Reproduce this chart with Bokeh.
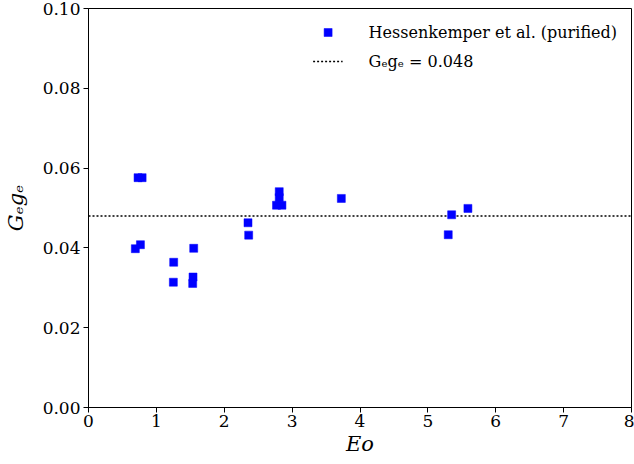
from bokeh.plotting import figure
from bokeh.models import Legend, LegendItem, FixedTicker
from bokeh.embed import file_html
from bokeh.resources import INLINE

# Data: Hessenkemper et al. (purified)
eo = [0.73, 0.79, 0.69, 0.765, 1.255, 1.25, 1.55, 1.54, 1.535,
      2.35, 2.36, 2.81, 2.81, 2.77, 2.85, 3.725, 5.35, 5.59, 5.30]
geg = [0.0576, 0.0576, 0.0398, 0.0408, 0.0364, 0.0314, 0.0399, 0.0327, 0.0311,
       0.0463, 0.0432, 0.0541, 0.0526, 0.0507, 0.0507, 0.0524, 0.0483, 0.0499, 0.0433]
ge_const = 0.048
x_range = (0, 8)
y_range = (0, 0.10)
x_ticks = [0, 1, 2, 3, 4, 5, 6, 7, 8]
y_ticks = [0.0, 0.02, 0.04, 0.06, 0.08, 0.10]

FONT = "DejaVu Serif"

p = figure(width=634, height=464, output_backend="svg", toolbar_location=None,
           x_range=x_range, y_range=y_range,
           min_border_left=87, min_border_right=3, min_border_top=8, min_border_bottom=57)
p.grid.visible = False
p.outline_line_color = "black"
p.outline_line_width = 1
p.background_fill_color = "white"
p.border_fill_color = "white"

line_r = p.line(x=list(x_range), y=[ge_const, ge_const], line_color="black",
                line_width=1.6, line_dash="2 2")
sq_r = p.scatter(eo, geg, marker="square", size=8, fill_color="#0000ff",
                 line_color="#0000ff", line_width=0.5)

for ax in (p.xaxis[0], p.yaxis[0]):
    ax.major_label_text_font = FONT
    ax.major_label_text_font_size = "17px"
    ax.major_label_text_color = "black"
    ax.axis_label_text_font = FONT
    ax.axis_label_text_font_size = "21px"
    ax.axis_label_text_font_style = "italic"
    ax.axis_label_text_color = "black"
    ax.minor_tick_line_color = None
    ax.major_tick_out = 5
    ax.major_tick_in = 0
    ax.axis_line_color = "black"
    ax.major_tick_line_color = "black"

p.xaxis.ticker = FixedTicker(ticks=x_ticks)
p.yaxis.ticker = FixedTicker(ticks=y_ticks)
p.xaxis.major_label_overrides = {t: str(t) for t in x_ticks}
p.yaxis.major_label_overrides = {t: f"{t:.2f}" for t in y_ticks}
p.xaxis.axis_label = "Eo"
p.yaxis.axis_label = "Gₑgₑ"
p.xaxis.major_label_standoff = 2
p.yaxis.major_label_standoff = 3
p.xaxis.axis_label_standoff = 2
p.yaxis.axis_label_standoff = 12

legend = Legend(items=[
    LegendItem(label="Hessenkemper et al. (purified)", renderers=[sq_r]),
    LegendItem(label="Gₑgₑ = 0.048", renderers=[line_r]),
], location="top_right")
legend.label_text_font = FONT
legend.label_text_font_size = "16px"
legend.label_text_color = "black"
legend.border_line_color = None
legend.background_fill_alpha = 0
legend.glyph_width = 30
legend.glyph_height = 20
legend.label_standoff = 26
legend.spacing = 9
legend.margin = 14
legend.padding = 2
p.add_layout(legend)

open("out.html", "w").write(file_html(p, INLINE))
